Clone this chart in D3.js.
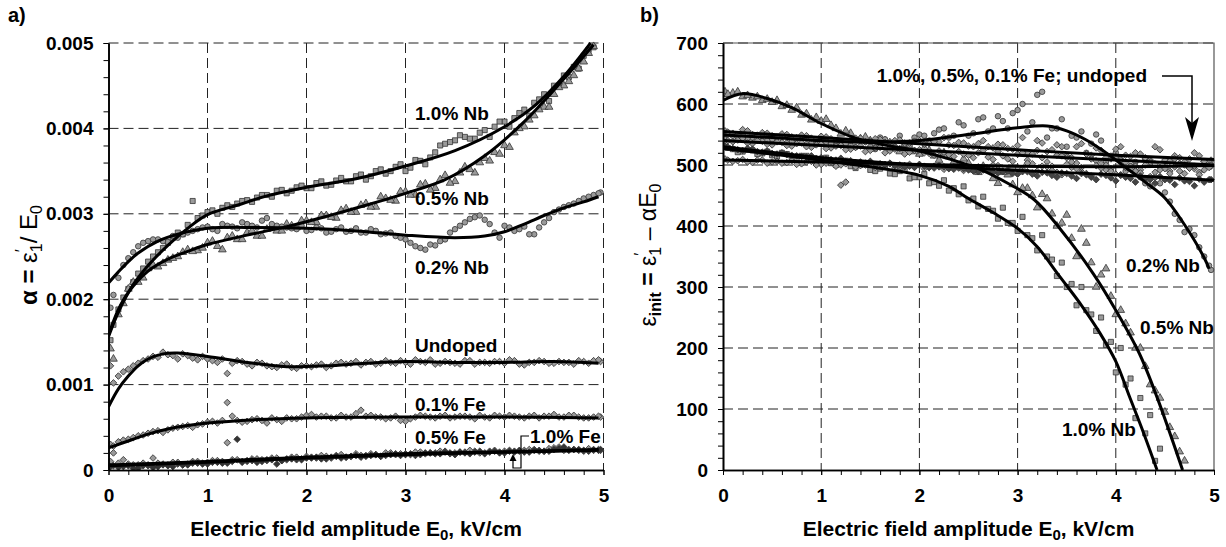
<!DOCTYPE html>
<html>
<head>
<meta charset="utf-8">
<script src="https://cdn.jsdelivr.net/npm/d3@7"></script>
<style>
  body { margin: 0; background: #fff; }
  svg text { font-family: "Liberation Sans", Arial, sans-serif; font-weight: bold; fill: #000; }
</style>
</head>
<body>
<div id="chart"></div>
<script>
// field amplitude E0 (kV/cm) where the measured points were taken
let fieldE0 = [0.02,0.1,0.2,0.3,0.4,0.5,0.6,0.7,0.8,0.9,1,1.1,1.2,1.3,1.4,1.5,1.6,1.7,1.8,1.9,2,2.1,2.2,2.3,2.4,2.5,2.6,2.7,2.8,2.9,3,3.1,3.2,3.3,3.4,3.5,3.6,3.7,3.8,3.9,4,4.1,4.2,4.3,4.4,4.5,4.6,4.7,4.8,4.9,4.97];
let fieldE0Mid = [0.05,0.15,0.25,0.35,0.45,0.55,0.65,0.75,0.85,0.95,1.05,1.15,1.25,1.35,1.45,1.55,1.65,1.75,1.85,1.95,2.05,2.15,2.25,2.35,2.45,2.55,2.65,2.75,2.85,2.95,3.05,3.15,3.25,3.35,3.45,3.55,3.65,3.75,3.85,3.95,4.05,4.15,4.25,4.35,4.45,4.55,4.65,4.75,4.85,4.95];

// panel a) alpha, in units of 0.001 (fieldE0 points, then fieldE0Mid points)
let alphaNb10 = [1.52,1.88,2.12,2.30,2.44,2.55,2.66,2.78,2.87,2.95,3.02,3.00,3.10,3.12,3.16,3.19,3.22,3.27,3.24,3.31,3.30,3.36,3.33,3.39,3.38,3.44,3.40,3.50,3.47,3.55,3.50,3.63,3.58,3.72,3.82,3.86,3.90,3.88,3.98,4.02,4.08,4.12,4.22,4.30,4.40,4.50,4.62,4.72,4.85,4.95,null];
let alphaNb10Mid = [1.70,2.02,2.20,2.36,2.50,2.60,2.72,2.76,3.15,2.98,3.04,3.07,3.08,3.15,3.14,3.22,3.20,3.28,3.27,3.33,3.30,3.38,3.34,3.42,3.38,3.46,3.44,3.52,3.50,3.58,3.54,3.62,3.66,3.80,3.84,3.92,3.88,3.95,3.90,4.08,4.02,4.18,4.15,4.34,4.32,4.50,4.60,4.70,4.92,null];
let alphaNb05 = [1.42,1.82,2.12,2.20,2.36,2.38,2.46,2.50,2.58,2.57,2.66,2.62,2.72,2.70,2.78,2.74,2.82,2.80,2.88,2.84,2.92,2.90,2.98,2.95,3.06,3.02,3.12,3.08,3.18,3.15,3.26,3.22,3.35,3.30,3.45,3.38,3.55,3.48,3.65,3.72,3.80,3.95,4.02,4.15,4.25,4.40,4.50,4.62,4.78,4.96,null];
let alphaNb05Mid = [1.30,1.95,2.20,2.25,2.40,2.42,2.48,2.55,2.56,2.60,2.68,2.58,2.74,2.70,2.80,2.74,2.85,2.80,2.86,2.92,2.90,2.98,2.96,3.04,3.02,3.10,3.08,3.20,3.16,3.26,3.22,3.34,3.28,3.40,3.36,3.48,3.52,3.60,3.62,3.70,3.78,4.00,4.10,4.22,4.25,4.48,4.55,4.70,4.88,null];
let alphaNb02 = [1.90,2.25,2.48,2.62,2.68,2.70,2.67,2.72,2.78,2.82,2.85,2.80,2.86,2.83,2.88,2.84,2.95,2.86,2.84,2.82,2.80,2.84,2.78,2.82,2.79,2.83,2.78,2.80,2.77,2.74,2.70,2.62,2.58,2.63,2.70,2.82,2.90,2.96,2.93,2.78,2.86,2.80,2.85,2.76,2.90,3.02,3.08,3.12,3.18,3.22,3.25];
let alphaNb02Mid = [2.05,2.40,2.55,2.66,2.70,2.68,2.74,2.76,2.80,2.84,2.82,2.88,2.85,2.90,2.86,2.92,2.88,2.85,2.83,2.86,2.81,2.83,2.79,2.84,2.80,2.78,2.82,2.76,2.78,2.72,2.66,2.60,2.64,2.68,2.78,2.86,2.94,2.98,2.88,2.72,2.84,2.82,2.76,2.84,2.95,3.05,3.10,3.15,3.20,3.24];
let alphaUndoped = [1.22,1.10,1.18,1.25,1.30,1.32,1.35,1.30,1.34,1.29,1.30,1.26,1.13,1.28,1.24,1.26,1.22,1.20,1.24,1.19,1.22,1.23,1.20,1.25,1.24,1.27,1.26,1.24,1.28,1.25,1.26,1.29,1.26,1.24,1.27,1.25,1.28,1.24,1.26,1.27,1.25,1.28,1.23,1.26,1.27,1.25,1.26,1.24,1.27,1.28,1.27];
let alphaUndopedMid = [1.02,1.15,1.22,1.28,1.33,1.38,1.34,1.36,1.31,1.33,1.28,1.30,1.25,1.27,1.22,1.25,1.21,1.23,1.20,1.22,1.21,1.24,1.22,1.26,1.25,1.23,1.27,1.25,1.26,1.28,1.24,1.27,1.29,1.25,1.26,1.24,1.28,1.26,1.25,1.27,1.29,1.24,1.26,1.28,1.25,1.27,1.26,1.28,1.25,1.29];
let alphaFe01 = [0.30,0.33,0.36,0.40,0.43,0.46,0.47,0.50,0.52,0.53,0.56,0.55,0.79,0.58,0.57,0.60,0.55,0.59,0.61,0.60,0.64,0.62,0.63,0.61,0.62,0.66,0.63,0.62,0.60,0.63,0.57,0.62,0.63,0.61,0.64,0.62,0.63,0.60,0.62,0.64,0.62,0.63,0.61,0.64,0.63,0.65,0.62,0.64,0.61,0.62,0.62];
let alphaFe01Mid = [0.28,0.35,0.38,0.41,0.45,0.44,0.49,0.51,0.50,0.54,0.57,0.58,0.63,0.56,0.59,0.58,0.61,0.57,0.60,0.62,0.65,0.63,0.61,0.64,0.62,0.70,0.64,0.62,0.61,0.58,0.60,0.64,0.62,0.63,0.61,0.63,0.62,0.64,0.61,0.63,0.64,0.62,0.63,0.61,0.63,0.62,0.64,0.62,0.61,0.63];
let alphaFe05 = [0.10,0.08,0.07,0.06,0.05,0.08,0.06,0.09,0.07,0.10,0.09,0.11,0.32,0.12,0.10,0.13,0.11,0.14,0.12,0.15,0.16,0.14,0.16,0.17,0.15,0.19,0.17,0.18,0.20,0.18,0.19,0.21,0.19,0.20,0.22,0.20,0.21,0.22,0.20,0.23,0.22,0.21,0.23,0.24,0.22,0.26,0.23,0.24,0.22,0.23,0.23];
let alphaFe05Mid = [0.20,0.12,0.06,0.08,0.14,0.07,0.09,0.06,0.10,0.08,0.11,0.10,0.12,0.10,0.13,0.12,0.14,0.11,0.15,0.13,0.15,0.17,0.14,0.18,0.16,0.17,0.19,0.16,0.20,0.19,0.18,0.21,0.20,0.22,0.19,0.21,0.23,0.20,0.22,0.21,0.23,0.22,0.24,0.22,0.25,0.27,0.24,0.23,0.25,0.24];
let alphaFe10 = [0.04,0.03,0.05,0.02,0.06,0.04,0.05,0.07,0.06,0.08,0.07,0.09,0.08,0.36,0.11,0.09,0.12,0.07,0.13,0.12,0.14,0.15,0.13,0.16,0.15,0.17,0.16,0.18,0.17,0.19,0.18,0.17,0.20,0.19,0.21,0.18,0.20,0.21,0.19,0.22,0.20,0.22,0.21,0.23,0.22,0.24,0.27,0.24,0.23,0.24,0.24];
let alphaFe10Mid = [0.05,0.04,0.02,0.05,0.03,0.06,0.04,0.06,0.08,0.07,0.09,0.08,0.10,0.09,0.11,0.10,0.12,0.11,0.13,0.12,0.14,0.13,0.15,0.14,0.16,0.15,0.17,0.16,0.18,0.17,0.19,0.18,0.20,0.19,0.20,0.21,0.19,0.22,0.21,0.20,0.22,0.23,0.21,0.23,0.22,0.25,0.23,0.24,0.22,0.23];

// panel a) fitted curves, [E0, alpha*1000]
let fitAlphaNb10 = [[0,1.56],[0.1,1.85],[0.25,2.17],[0.42,2.42],[0.6,2.63],[0.8,2.83],[1.0,2.99],[1.3,3.10],[1.6,3.21],[2.0,3.31],[2.5,3.41],[3.0,3.56],[3.5,3.74],[4.0,4.02],[4.3,4.26],[4.6,4.61],[4.87,5.0]];
let fitAlphaNb05 = [[0,1.58],[0.1,1.88],[0.2,2.08],[0.4,2.33],[0.6,2.47],[0.8,2.56],[1.0,2.64],[1.4,2.75],[1.8,2.85],[2.2,2.97],[2.6,3.10],[3.0,3.24],[3.4,3.40],[3.8,3.68],[4.2,4.08],[4.6,4.58],[4.9,4.98]];
let fitAlphaNb02 = [[0,2.19],[0.1,2.32],[0.2,2.44],[0.3,2.54],[0.5,2.68],[0.7,2.76],[1.0,2.83],[1.5,2.84],[2.0,2.83],[2.5,2.80],[3.0,2.75],[3.5,2.72],[3.8,2.74],[4.0,2.79],[4.2,2.88],[4.4,2.98],[4.6,3.07],[4.8,3.14],[4.95,3.20]];
let fitAlphaUndoped = [[0,0.74],[0.1,0.95],[0.2,1.10],[0.3,1.22],[0.4,1.30],[0.55,1.36],[0.7,1.37],[1.0,1.33],[1.4,1.26],[1.8,1.21],[2.2,1.22],[2.6,1.25],[3.0,1.27],[3.5,1.26],[4.0,1.26],[4.5,1.27],[4.95,1.25]];
let fitAlphaFe01 = [[0,0.26],[0.2,0.34],[0.4,0.42],[0.6,0.48],[0.8,0.52],[1.0,0.55],[1.5,0.59],[2.0,0.61],[3.0,0.62],[4.0,0.62],[4.95,0.61]];
let fitAlphaFe05 = [[0,0.06],[1,0.10],[2,0.15],[3,0.19],[4,0.21],[4.95,0.23]];
let fitAlphaFe10 = [[0,0.05],[1,0.09],[2,0.14],[3,0.18],[4,0.21],[4.95,0.24]];

// panel b) eps_init (fieldE0 points, then fieldE0Mid points)
let epsNb10 = [530,526,522,524,519,516,520,512,515,508,510,503,506,498,500,492,494,486,490,478,480,470,466,458,452,442,432,428,412,405,392,385,360,350,318,300,270,262,228,205,160,140,85,60,15,null,null,null,null,null,null];
let epsNb10Mid = [528,521,525,518,522,514,518,510,515,506,512,500,507,495,502,490,498,485,492,480,485,472,475,462,465,445,448,425,430,405,415,380,385,345,340,305,300,255,250,210,200,150,118,90,35,null,null,null,null,null];
let epsNb05 = [620,618,612,610,606,603,596,590,582,574,572,565,551,552,543,540,530,536,522,530,518,524,508,514,498,503,488,492,470,484,455,462,430,445,400,418,350,372,300,330,255,240,200,170,130,95,55,15,null,null,null];
let epsNb05Mid = [616,620,614,612,608,606,598,594,584,578,575,560,556,540,546,535,540,528,534,522,528,515,520,505,510,492,498,478,488,468,462,450,452,420,405,380,395,340,320,285,262,225,200,140,118,70,30,null,null,null];
let epsNb02 = [552,548,550,545,547,542,546,538,544,536,541,535,538,532,540,530,545,528,548,532,550,540,558,545,570,548,575,555,580,560,590,555,615,545,560,530,545,520,550,505,520,490,505,470,480,455,420,390,385,350,328];
let epsNb02Mid = [550,546,544,548,540,545,536,543,534,540,538,532,535,529,538,526,542,530,536,545,548,552,560,548,565,552,578,560,572,585,600,570,620,560,575,548,555,535,540,515,510,498,480,465,470,440,410,395,365,335];
let epsUndoped = [556,552,558,550,553,548,551,546,549,544,547,543,467,541,544,539,542,538,541,536,540,535,538,533,537,531,535,530,534,527,532,520,540,522,533,515,530,518,528,512,526,516,520,510,530,508,515,505,520,506,508];
let epsUndopedMid = [554,550,556,549,552,546,550,545,548,542,546,540,472,544,538,543,537,540,535,539,534,538,545,532,536,530,540,528,533,526,545,518,536,525,530,512,535,516,524,510,530,514,518,508,525,506,512,510,515,505];
let epsFe01 = [542,538,544,535,539,533,537,531,536,529,534,528,532,526,531,524,529,523,527,521,525,519,523,517,522,516,520,513,522,510,518,508,524,505,516,512,503,518,507,500,514,504,498,512,502,496,510,500,494,506,498];
let epsFe01Mid = [540,541,536,540,534,538,532,535,530,533,527,531,525,529,522,528,520,526,518,524,520,516,521,514,518,512,524,509,515,506,520,502,512,498,515,505,496,510,502,494,508,498,492,505,496,490,502,495,488,500];
let epsFe05 = [510,506,509,504,508,505,503,507,502,506,501,505,500,504,499,503,498,502,497,501,500,496,499,495,498,494,497,493,499,492,496,503,490,497,488,501,494,486,499,492,485,496,490,500,488,494,497,486,498,492,500];
let epsFe05Mid = [508,507,505,508,503,506,504,501,505,500,503,498,502,497,500,496,501,495,499,497,494,498,493,497,491,496,492,500,489,495,493,487,498,491,484,496,489,482,495,490,483,493,487,481,492,486,490,495,484,496];
let epsFe10 = [531,527,524,526,521,519,520,516,514,515,512,509,511,507,505,506,502,503,500,498,501,496,497,494,495,492,489,493,487,490,485,489,482,487,480,486,478,484,476,483,474,480,472,478,470,476,468,474,466,472,476];
let epsFe10Mid = [529,525,527,522,523,518,517,515,513,511,510,508,506,504,503,501,500,499,497,496,498,495,497,493,494,490,492,488,490,486,489,485,488,483,487,482,486,480,485,479,484,478,482,476,481,475,479,473,477,476];

// panel b) fitted curves, [E0, eps_init]
let fitEpsNb05 = [[0,606],[0.2,617],[0.45,609],[0.7,594],[1.0,568],[1.35,544],[1.7,531],[2.0,523],[2.3,510],[2.63,492],[2.9,470],[3.17,443],[3.43,396],[3.77,322],[4.0,262],[4.24,191],[4.43,115],[4.68,0]];
let fitEpsNb10 = [[0,527],[0.5,518],[1.0,508],[1.5,497],[2.0,483],[2.3,465],[2.5,445],[2.75,422],[3.0,396],[3.2,366],[3.43,317],[3.65,270],[3.84,224],[4.0,178],[4.14,120],[4.28,62],[4.42,0]];
let fitEpsNb02 = [[0,549],[0.5,545],[1.0,540],[1.5,537],[2.0,540],[2.5,550],[3.0,561],[3.3,564],[3.5,556],[3.7,541],[3.9,520],[4.1,496],[4.3,472],[4.5,446],[4.7,402],[4.9,348],[4.95,330]];
let fitEpsUndoped = [[0,555],[1,545],[2,535],[3,525],[4,516],[5,509]];
let fitEpsFe01 = [[0,540],[1,532],[2,524],[3,516],[4,508],[5,500]];
let fitEpsFe05 = [[0,508],[1,505],[2,501],[3,498],[4,497],[5,499]];
let fitEpsFe10 = [[0,530],[1,512],[2,500],[3,491],[4,484],[5,475]];

let svgWidth = 1226;
let svgHeight = 547;
let plotTop = 43;
let plotBottom = 470;

let svg = d3.select('#chart').append('svg')
  .attr('width', svgWidth)
  .attr('height', svgHeight);

// marker shapes
let shapes = {
  square: d3.symbol().type(d3.symbolSquare).size(26)(),
  triangle: d3.symbol().type(d3.symbolTriangle).size(26)(),
  circle: d3.symbol().type(d3.symbolCircle).size(24)(),
  diamond: d3.symbol().type(d3.symbolSquare).size(22)()
};

function drawPanel(cfg) {
  let g = svg.append('g');

  let xScale = d3.scaleLinear().domain([0, 5]).range([cfg.left, cfg.right]);
  let yScale = d3.scaleLinear().domain([0, cfg.yMax]).range([plotBottom, plotTop]);

  // dashed grid
  let grid = g.append('g');
  grid.selectAll('.gx')
    .data(cfg.gridX)
    .enter()
    .append('line')
    .attr('x1', d => xScale(d)).attr('x2', d => xScale(d))
    .attr('y1', plotTop).attr('y2', plotBottom)
    .attr('stroke', '#222').attr('stroke-width', 1)
    .attr('stroke-dasharray', '10,5');
  grid.selectAll('.gy')
    .data(cfg.gridY)
    .enter()
    .append('line')
    .attr('x1', cfg.left).attr('x2', cfg.right)
    .attr('y1', d => yScale(d)).attr('y2', d => yScale(d))
    .attr('stroke', '#222').attr('stroke-width', 1)
    .attr('stroke-dasharray', '10,5');

  if (cfg.solidBox) {
    g.append('path')
      .attr('d', `M${cfg.left},${plotTop}H${cfg.right}V${plotBottom}`)
      .attr('fill', 'none')
      .attr('stroke', '#555')
      .attr('stroke-width', 1.2);
  }

  // clip for data
  let clipId = 'clip-' + cfg.name;
  svg.append('clipPath').attr('id', clipId)
    .append('rect')
    .attr('x', cfg.left).attr('y', plotTop - 4)
    .attr('width', cfg.right - cfg.left + 4).attr('height', plotBottom - plotTop + 4);

  let dataG = g.append('g').attr('clip-path', `url(#${clipId})`);

  // measured points
  cfg.series.forEach(function(s) {
    let pts = fieldE0.map((e, i) => [e, s.values[i]])
      .concat(fieldE0Mid.map((e, i) => [e, s.mid[i]]))
      .filter(p => p[1] !== null);
    dataG.append('g').selectAll('path')
      .data(pts)
      .enter()
      .append('path')
      .attr('d', shapes[s.shape])
      .attr('transform', d => `translate(${xScale(d[0])},${yScale(d[1])})` + (s.shape === 'diamond' ? ' rotate(45)' : ''))
      .attr('fill', s.fill || '#9a9a9a')
      .attr('stroke', '#333')
      .attr('stroke-width', 0.8);
  });

  // fitted lines
  let line = d3.line()
    .x(d => xScale(d[0]))
    .y(d => yScale(d[1]))
    .curve(d3.curveCatmullRom);

  cfg.series.forEach(function(s) {
    dataG.append('path')
      .datum(s.fit)
      .attr('d', line)
      .attr('fill', 'none')
      .attr('stroke', '#000')
      .attr('stroke-width', 3);
  });

  // axes
  let leftAxis = d3.axisLeft(yScale)
    .tickValues(cfg.majorY)
    .tickFormat(cfg.yFormat)
    .tickSize(5)
    .tickSizeOuter(0)
    .tickPadding(10);
  let leftMinor = d3.axisLeft(yScale)
    .tickValues(cfg.minorY)
    .tickFormat('')
    .tickSize(5)
    .tickSizeOuter(0);
  let bottomAxis = d3.axisBottom(xScale)
    .tickValues([0, 1, 2, 3, 4, 5])
    .tickFormat(d3.format('d'))
    .tickSize(5)
    .tickSizeOuter(0)
    .tickPadding(14);
  let bottomMinor = d3.axisBottom(xScale)
    .tickValues(d3.range(0, 5.01, 0.2))
    .tickFormat('')
    .tickSize(5)
    .tickSizeOuter(0);

  [
    g.append('g').attr('transform', `translate(${cfg.left},0)`).call(leftMinor),
    g.append('g').attr('transform', `translate(${cfg.left},0)`).call(leftAxis),
    g.append('g').attr('transform', `translate(0,${plotBottom})`).call(bottomMinor),
    g.append('g').attr('transform', `translate(0,${plotBottom})`).call(bottomAxis)
  ].forEach(function(ax) {
    ax.select('.domain').attr('stroke', '#000').attr('stroke-width', 1.6);
    ax.selectAll('.tick line').attr('stroke', '#000').attr('stroke-width', 1);
    ax.selectAll('text')
      .style('font-size', '19px')
      .style('font-family', '"Liberation Sans", Arial, sans-serif')
      .style('font-weight', 'bold');
  });

  // x axis title
  let xt = g.append('text')
    .attr('x', (cfg.left + cfg.right) / 2)
    .attr('y', 536)
    .attr('text-anchor', 'middle')
    .style('font-size', '21px');
  xt.append('tspan').text('Electric field amplitude E');
  xt.append('tspan').attr('dy', 4).style('font-size', '15px').text('0');
  xt.append('tspan').attr('dy', -4).text(', kV/cm');

  // panel letter
  g.append('text')
    .attr('x', cfg.letterX)
    .attr('y', 22)
    .style('font-size', '20px')
    .text(cfg.letter);

  // curve labels
  cfg.labels.forEach(function(l) {
    g.append('text')
      .attr('x', l.x)
      .attr('y', l.y)
      .attr('text-anchor', l.anchor || 'start')
      .style('font-size', '19px')
      .text(l.text);
  });

  return g;
}

// panel a)
let panelA = drawPanel({
  name: 'a',
  left: 108.5,
  right: 603.5,
  yMax: 5,
  majorY: [0, 1, 2, 3, 4, 5],
  minorY: d3.range(0, 5.01, 0.2),
  yFormat: d => d === 0 ? '0' : (d / 1000).toFixed(3),
  gridX: [1, 2, 3, 4, 5],
  gridY: [1, 2, 3, 4, 5],
  solidBox: false,
  letter: 'a)',
  letterX: 8,
  series: [
    { values: alphaNb10, mid: alphaNb10Mid, fit: fitAlphaNb10, shape: 'square' },
    { values: alphaNb05, mid: alphaNb05Mid, fit: fitAlphaNb05, shape: 'triangle' },
    { values: alphaNb02, mid: alphaNb02Mid, fit: fitAlphaNb02, shape: 'circle' },
    { values: alphaUndoped, mid: alphaUndopedMid, fit: fitAlphaUndoped, shape: 'diamond' },
    { values: alphaFe01, mid: alphaFe01Mid, fit: fitAlphaFe01, shape: 'diamond' },
    { values: alphaFe05, mid: alphaFe05Mid, fit: fitAlphaFe05, shape: 'diamond' },
    { values: alphaFe10, mid: alphaFe10Mid, fit: fitAlphaFe10, shape: 'diamond', fill: '#333' }
  ],
  labels: [
    { text: '1.0% Nb', x: 415, y: 120 },
    { text: '0.5% Nb', x: 415, y: 205 },
    { text: '0.2% Nb', x: 415, y: 274 },
    { text: 'Undoped', x: 415, y: 352 },
    { text: '0.1% Fe', x: 415, y: 411 },
    { text: '0.5% Fe', x: 415, y: 444 },
    { text: '1.0% Fe', x: 530, y: 443 }
  ]
});

// pointer to the 1.0% Fe curve
panelA.append('path')
  .attr('d', 'M529,436H521V468H513V459')
  .attr('fill', 'none')
  .attr('stroke', '#000')
  .attr('stroke-width', 1.2);
panelA.append('path')
  .attr('d', 'M513,454L509.5,461H516.5Z')
  .attr('fill', '#000');

// y title a)
let yTitleA = panelA.append('text')
  .attr('transform', 'translate(37,255) rotate(-90)')
  .attr('text-anchor', 'middle')
  .style('font-size', '24px');
yTitleA.append('tspan').text('α =  ');
yTitleA.append('tspan').style('font-weight', 'normal').text('ε');
yTitleA.append('tspan').attr('dy', -10).attr('dx', 0).style('font-size', '16px').style('font-weight', 'normal').text('′');
yTitleA.append('tspan').attr('dy', 15).attr('dx', -3).style('font-size', '16px').style('font-weight', 'normal').text('1');
yTitleA.append('tspan').attr('dy', -5).style('font-weight', 'normal').text('/ E');
yTitleA.append('tspan').attr('dy', 5).style('font-size', '16px').style('font-weight', 'normal').text('0');

// panel b)
let panelB = drawPanel({
  name: 'b',
  left: 723,
  right: 1214,
  yMax: 700,
  majorY: [0, 100, 200, 300, 400, 500, 600, 700],
  minorY: d3.range(0, 701, 20),
  yFormat: d3.format('d'),
  gridX: [1, 2, 3, 4],
  gridY: [100, 200, 300, 400, 500, 600, 700],
  solidBox: true,
  letter: 'b)',
  letterX: 640,
  series: [
    { values: epsNb10, mid: epsNb10Mid, fit: fitEpsNb10, shape: 'square' },
    { values: epsNb05, mid: epsNb05Mid, fit: fitEpsNb05, shape: 'triangle' },
    { values: epsNb02, mid: epsNb02Mid, fit: fitEpsNb02, shape: 'circle' },
    { values: epsUndoped, mid: epsUndopedMid, fit: fitEpsUndoped, shape: 'diamond' },
    { values: epsFe01, mid: epsFe01Mid, fit: fitEpsFe01, shape: 'diamond' },
    { values: epsFe05, mid: epsFe05Mid, fit: fitEpsFe05, shape: 'diamond' },
    { values: epsFe10, mid: epsFe10Mid, fit: fitEpsFe10, shape: 'diamond', fill: '#444' }
  ],
  labels: [
    { text: '1.0%, 0.5%, 0.1% Fe; undoped', x: 1147, y: 82, anchor: 'end' },
    { text: '0.2% Nb', x: 1126, y: 272 },
    { text: '0.5% Nb', x: 1140, y: 334 },
    { text: '1.0% Nb', x: 1062, y: 436 }
  ]
});

// arrow for the Fe / undoped group
panelB.append('path')
  .attr('d', 'M1162,76H1192V126')
  .attr('fill', 'none')
  .attr('stroke', '#000')
  .attr('stroke-width', 1.5);
panelB.append('path')
  .attr('d', 'M1192,141L1185,117L1192,123L1199,117Z')
  .attr('fill', '#000');

// y title b)
let yTitleB = panelB.append('text')
  .attr('transform', 'translate(656,255) rotate(-90)')
  .attr('text-anchor', 'middle')
  .style('font-size', '23px');
yTitleB.append('tspan').style('font-weight', 'normal').text('ε');
yTitleB.append('tspan').attr('dy', 5).style('font-size', '16px').text('init');
yTitleB.append('tspan').attr('dy', -5).text(' = ');
yTitleB.append('tspan').style('font-weight', 'normal').text('ε');
yTitleB.append('tspan').attr('dy', -10).attr('dx', 0).style('font-size', '16px').style('font-weight', 'normal').text('′');
yTitleB.append('tspan').attr('dy', 15).attr('dx', -3).style('font-size', '16px').style('font-weight', 'normal').text('1');
yTitleB.append('tspan').attr('dy', -5).style('font-weight', 'normal').text(' – αE');
yTitleB.append('tspan').attr('dy', 5).style('font-size', '16px').style('font-weight', 'normal').text('0');
</script>
</body>
</html>
